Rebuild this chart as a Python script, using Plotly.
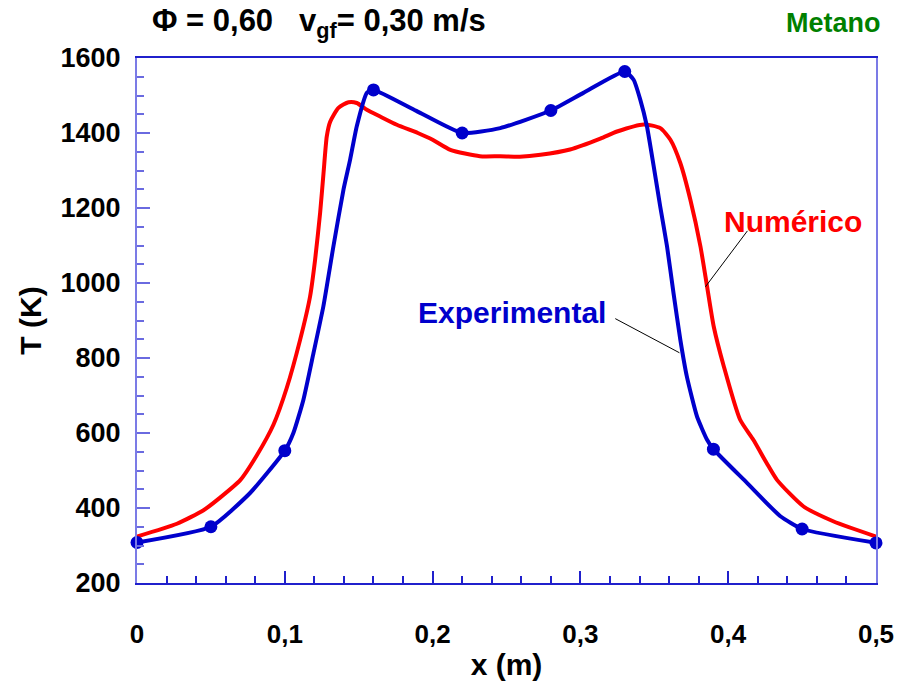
import plotly.graph_objects as go

# Temperature profiles along the burner, T (K) vs x (m)

# Measured points (markers)
exp_x = [0.0, 0.05, 0.10, 0.16, 0.22, 0.28, 0.33, 0.39, 0.45, 0.50]
exp_T = [308, 350, 553, 1515, 1400, 1460, 1564, 557, 344, 307]

# Smoothed experimental curve between the measured points
exp_curve_x = [0.0, 0.05, 0.0765, 0.10, 0.1058, 0.1126, 0.1194, 0.1261, 0.1329,
               0.1397, 0.1442, 0.1487, 0.1555, 0.16, 0.189, 0.22, 0.2458, 0.28,
               0.302, 0.33, 0.336, 0.3405, 0.345, 0.3496, 0.354, 0.3586, 0.363,
               0.3676, 0.372, 0.3789, 0.3857, 0.39, 0.4127, 0.4353, 0.45, 0.50]
exp_curve_T = [308, 350, 440, 553, 600, 689, 813, 938, 1098,
               1249, 1329, 1418, 1507, 1515, 1459, 1400, 1413, 1460,
               1507, 1564, 1542, 1489, 1418, 1311, 1204, 1098, 973,
               849, 751, 644, 582, 557, 467, 378, 344, 307]

# Numerical solution
num_x = [0.0, 0.027, 0.045, 0.056, 0.07, 0.081, 0.0923, 0.1013, 0.1104, 0.1171,
         0.1205, 0.1239, 0.1262, 0.1284, 0.1307, 0.1363, 0.1431, 0.1487, 0.1555,
         0.1645, 0.1758, 0.19, 0.20, 0.212, 0.232, 0.2458, 0.259, 0.273, 0.293,
         0.3135, 0.3248, 0.3428, 0.3541, 0.3609, 0.3676, 0.3744, 0.3812, 0.3857,
         0.3902, 0.397, 0.408, 0.417, 0.426, 0.433, 0.451, 0.4714, 0.50]
num_T = [324, 358, 394, 427, 475, 540, 622, 720, 849, 964,
         1062, 1187, 1293, 1391, 1430, 1467, 1482, 1480, 1462,
         1444, 1422, 1400, 1382, 1355, 1338, 1338, 1337, 1342, 1356,
         1385, 1404, 1423, 1413, 1382, 1320, 1222, 1098, 991,
         884, 778, 636, 582, 520, 475, 404, 364, 324]

x_ticks = [0.0, 0.1, 0.2, 0.3, 0.4, 0.5]
x_tick_text = ["0", "0,1", "0,2", "0,3", "0,4", "0,5"]
y_ticks = [200, 400, 600, 800, 1000, 1200, 1400, 1600]
y_tick_text = ["200", "400", "600", "800", "1000", "1200", "1400", "1600"]

BLUE = "#0000cc"
RED = "#ff0000"
FONT = "Arial, Liberation Sans, sans-serif"

fig = go.Figure()
fig.add_trace(go.Scatter(x=num_x, y=num_T, mode="lines",
                         line=dict(color=RED, width=4, shape="spline", smoothing=0.6),
                         name="Numérico"))
fig.add_trace(go.Scatter(x=exp_curve_x, y=exp_curve_T, mode="lines",
                         line=dict(color=BLUE, width=4, shape="spline", smoothing=0.5),
                         name="Experimental"))
fig.add_trace(go.Scatter(x=exp_x, y=exp_T, mode="markers",
                         marker=dict(color=BLUE, size=13), name="Experimental",
                         cliponaxis=False))

# Series labels with leader lines
fig.add_annotation(x=0.444, y=1163, text="<b>Numérico</b>", showarrow=False,
                   font=dict(family=FONT, size=30, color=RED))
fig.add_annotation(x=0.2539, y=921, text="<b>Experimental</b>", showarrow=False,
                   font=dict(family=FONT, size=30, color=BLUE))
fig.add_shape(type="line", x0=0.413, y0=1139, x1=0.3846, y1=990,
              line=dict(color="black", width=1))
fig.add_shape(type="line", x0=0.3236, y0=905, x1=0.367, y1=814,
              line=dict(color="black", width=1))

# Header texts
fig.add_annotation(xref="paper", yref="paper", x=0.0176, y=1.066,
                   xanchor="left", yanchor="middle", showarrow=False,
                   text="<b>Φ = 0,60   v<sub>gf</sub>= 0,30 m/s</b>",
                   font=dict(family=FONT, size=31, color="black"))
fig.add_annotation(xref="paper", yref="paper", x=0.943, y=1.066,
                   xanchor="center", yanchor="middle", showarrow=False,
                   text="<b>Metano</b>",
                   font=dict(family=FONT, size=27, color="#008000"))

fig.update_layout(
    width=899, height=685,
    margin=dict(l=137, r=23, t=58, b=102),
    paper_bgcolor="white", plot_bgcolor="white",
    showlegend=False,
    font=dict(family=FONT, color="black"),
)
fig.update_xaxes(
    range=[0, 0.5], tickvals=x_ticks,
    ticktext=["<b>%s</b>" % t for t in x_tick_text],
    showgrid=False, zeroline=False, automargin=False,
    showline=True, linecolor="#2020cc", linewidth=2, mirror=True,
    ticks="inside", ticklen=12, tickwidth=1.5, tickcolor="#2020cc",
    minor=dict(dtick=0.02, ticks="inside", ticklen=7, tickwidth=1.5,
               tickcolor="#2020cc", showgrid=False),
    tickfont=dict(family=FONT, size=26, color="black"),
    ticklabelstandoff=27,
    title=dict(text="<b>x (m)</b>", font=dict(family=FONT, size=30), standoff=6),
)
fig.update_yaxes(
    range=[200, 1600], tickvals=y_ticks,
    ticktext=["<b>%s</b>" % t for t in y_tick_text],
    showgrid=False, zeroline=False, automargin=False,
    showline=True, linecolor="#7b7be6", linewidth=2, mirror=True,
    ticks="inside", ticklen=13, tickwidth=1.5, tickcolor="#6a6ae0",
    minor=dict(dtick=50, ticks="inside", ticklen=7, tickwidth=1.5,
               tickcolor="#6a6ae0", showgrid=False),
    tickfont=dict(family=FONT, size=27, color="black"),
    ticklabelstandoff=9,
    title=dict(text="<b>T (K)</b>", font=dict(family=FONT, size=30), standoff=10),
)

fig.write_html("out.html")
